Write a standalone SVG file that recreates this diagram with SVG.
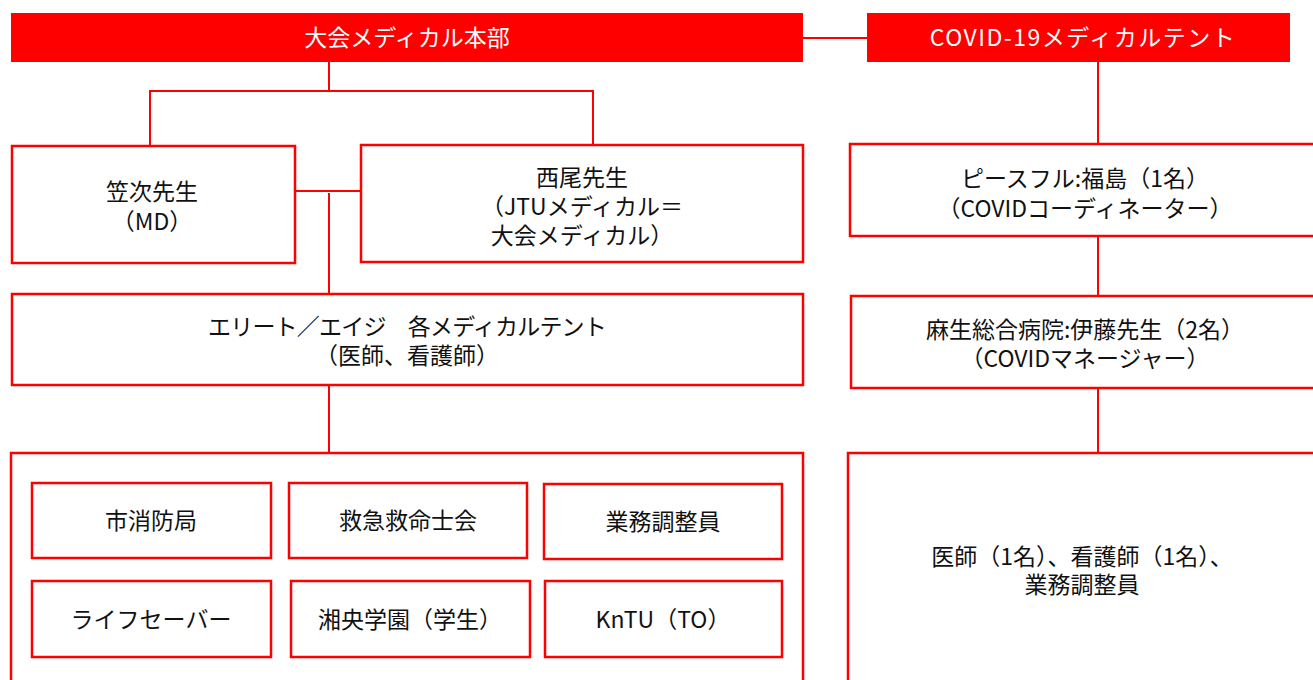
<svg xmlns="http://www.w3.org/2000/svg" width="1313" height="680" viewBox="0 0 1313 680">
<style>
.hdr{fill:#FF0000;}
.box{fill:#FFFFFF;stroke:#FF0000;stroke-width:2.5;}
.ln{stroke:#FF0000;stroke-width:2;fill:none;}
text{font-family:"Noto Sans CJK JP","Noto Sans",sans-serif;font-size:23px;fill:#111;text-anchor:middle;}
.ht{fill:#FFFFFF;}
</style>
<rect width="1313" height="680" fill="#FFFFFF"/>
<g id="connectors">
<line class="ln" x1="803" y1="38" x2="867" y2="38"/>
<polyline class="ln" points="329,62 329,91"/>
<polyline class="ln" points="150,146 150,91 593,91 593,145"/>
<line class="ln" x1="295" y1="191" x2="361" y2="191"/>
<line class="ln" x1="329" y1="193" x2="329" y2="294"/>
<line class="ln" x1="329" y1="385" x2="329" y2="453"/>
<line class="ln" x1="1098" y1="62" x2="1098" y2="144"/>
<line class="ln" x1="1098" y1="236" x2="1098" y2="296"/>
<line class="ln" x1="1098" y1="388" x2="1098" y2="453"/>
</g>
<g id="hq">
<rect class="hdr" x="11" y="13" width="792" height="49"/>
<text class="ht" x="407" y="46">大会メディカル本部</text>
</g>
<g id="covid-hq">
<rect class="hdr" x="867" y="13" width="423" height="49"/>
<text class="ht" x="1083" y="46" letter-spacing="1.5">COVID-19メディカルテント</text>
</g>
<g id="kasatsugi">
<rect class="box" x="12" y="146" width="283" height="117"/>
<text x="152" y="200">笠次先生<tspan x="152" dy="30">（MD）</tspan></text>
</g>
<g id="nishio">
<rect class="box" x="361" y="145" width="442" height="117"/>
<text x="582" y="186">西尾先生<tspan x="582" dy="29">（JTUメディカル＝</tspan><tspan x="582" dy="29">大会メディカル）</tspan></text>
</g>
<g id="elite">
<rect class="box" x="12" y="294" width="791" height="91"/>
<text x="407" y="335"><tspan letter-spacing="-0.8">エリート／エイジ　各メディカルテント</tspan><tspan x="407" dy="29">（医師、看護師）</tspan></text>
</g>
<g id="staff">
<rect class="box" x="11" y="453" width="792" height="250"/>
</g>
<g id="fire">
<rect class="box" x="32" y="483" width="239" height="75"/>
<text x="151" y="529">市消防局</text>
</g>
<g id="emt">
<rect class="box" x="289" y="483" width="238" height="75"/>
<text x="408" y="529">救急救命士会</text>
</g>
<g id="coord">
<rect class="box" x="544" y="484" width="238" height="75"/>
<text x="663" y="530">業務調整員</text>
</g>
<g id="lifesaver">
<rect class="box" x="32" y="581" width="239" height="76"/>
<text x="151" y="628">ライフセーバー</text>
</g>
<g id="shoou">
<rect class="box" x="291" y="581" width="239" height="76"/>
<text x="410" y="628">湘央学園（学生）</text>
</g>
<g id="kntu">
<rect class="box" x="545" y="581" width="237" height="76"/>
<text x="663" y="628">KnTU（TO）</text>
</g>
<g id="peaceful">
<rect class="box" x="850" y="144" width="475" height="92"/>
<text x="1085" y="187">ピースフル:福島（1名）<tspan x="1085" dy="30">（COVIDコーディネーター）</tspan></text>
</g>
<g id="aso">
<rect class="box" x="851" y="296" width="475" height="92"/>
<text x="1085" y="338">麻生総合病院:伊藤先生（2名）<tspan x="1085" dy="29">（COVIDマネージャー）</tspan></text>
</g>
<g id="covid-staff">
<rect class="box" x="848" y="453" width="480" height="250"/>
<text x="1082" y="565">医師（1名）、看護師（1名）、<tspan x="1082" dy="28">業務調整員</tspan></text>
</g>
</svg>
